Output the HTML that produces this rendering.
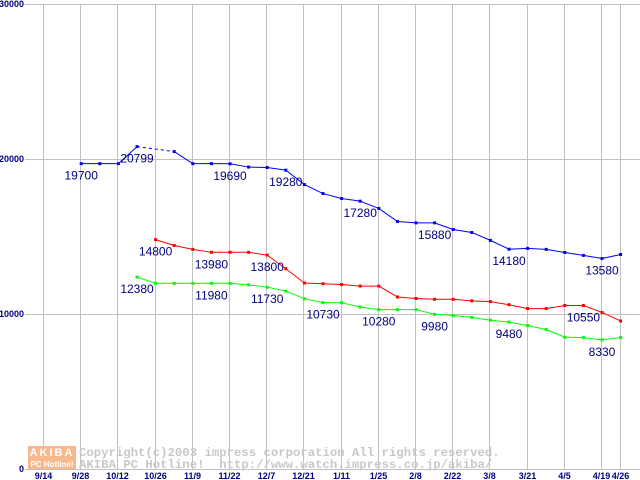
<!DOCTYPE html>
<html><head><meta charset="utf-8"><style>
html,body{margin:0;padding:0;background:#fff;width:640px;height:480px;overflow:hidden}
</style></head><body>
<svg id="chart" width="640" height="480" xmlns="http://www.w3.org/2000/svg" style="font-family:'Liberation Sans',sans-serif">
<g id="grid"></g>
<g id="wm">
<rect x="28" y="446" width="48" height="12" fill="#f7b88c"/>
<rect x="28" y="458" width="48" height="11" fill="#f7b88c"/>
<text x="52" y="456" font-size="11" font-weight="bold" fill="#fff" text-anchor="middle" letter-spacing="2">AKIBA</text>
<text x="52" y="467" font-size="8" font-weight="bold" fill="#fff" text-anchor="middle">PC Hotline!</text>
<text x="79" y="456" fill="#c8c8c8" style="font-family:'Liberation Mono',monospace;font-size:12.3px;font-weight:bold">Copyright(c)2003 impress corporation All rights reserved.</text>
<text x="79" y="468" fill="#c8c8c8" style="font-family:'Liberation Mono',monospace;font-size:12.3px;font-weight:bold" xml:space="preserve">AKIBA PC Hotline!  http://www.watch.impress.co.jp/akiba/</text>
</g>
<g id="series"></g>
<g id="labels"></g>
</svg>
<script>
const xCategories = ["9/14","9/28","10/12","10/26","11/9","11/22","12/7","12/21","1/11","1/25","2/8","2/22","3/8","3/21","4/5","4/19","4/26"];
const xCategoryWeeks = [0,2,4,6,8,10,12,14,16,18,20,22,24,26,28,30,31];
const yTicks = [0,10000,20000,30000];
const blueStart = 2;
const blueValues = [19700,19700,19700,20799,null,20480,19700,19700,19690,19480,19450,19280,18350,17770,17450,17280,16810,15970,15880,15880,15450,15260,14750,14180,14230,14170,13970,13780,13580,13840];
const redStart = 6;
const redValues = [14800,14420,14170,13980,13980,13980,13800,12920,12000,11950,11900,11800,11800,11100,11000,10950,10950,10850,10800,10600,10350,10350,10550,10550,10100,9550];
const greenStart = 5;
const greenValues = [12380,11980,11980,11980,11980,11980,11880,11730,11480,10980,10730,10730,10450,10280,10280,10280,9980,9900,9780,9600,9480,9250,9000,8500,8480,8330,8480];
const blueLabels = [[2,"19700"],[5,"20799"],[10,"19690"],[13,"19280"],[17,"17280"],[21,"15880"],[25,"14180"],[30,"13580"]];
const redLabels = [[6,"14800"],[9,"13980"],[12,"13800"],[29,"10550"]];
const greenLabels = [[5,"12380"],[9,"11980"],[12,"11730"],[15,"10730"],[18,"10280"],[21,"9980"],[25,"9480"],[30,"8330"]];

const NS="http://www.w3.org/2000/svg";
function X(w){return 44+w*18.6;}
function Y(v){return 469-v*0.01550;}
function mk(t,a,p){const e=document.createElementNS(NS,t);for(const k in a)e.setAttribute(k,a[k]);p.appendChild(e);return e;}
const grid=document.getElementById('grid');
yTicks.forEach(v=>{
  const l=mk('line',{x1:25,x2:640,y1:Math.round(Y(v))+0.5,y2:Math.round(Y(v))+0.5,stroke:'#c0c0c0'},grid);
  
  
  const t=mk('text',{x:24,y:Y(v)+3,style:'font-size:9px;font-weight:bold',fill:'#000080','text-anchor':'end'},grid);
  t.textContent=String(v);
  
  
});
xCategories.forEach((c,i)=>{
  const x=Math.round(X(xCategoryWeeks[i]))-0.5;
  const l=mk('line',{x1:x,x2:x,y1:4,y2:470,stroke:'#c0c0c0'},grid);
  
  
  const t=mk('text',{x:x,y:479,style:'font-size:9px;font-weight:bold',fill:'#000080','text-anchor':'middle'},grid);
  t.textContent=c;
  
  
});
const sg=document.getElementById('series');
function drawSeries(start,vals,color,name){
  const g=mk('g',{},sg);
  
  
  for(let i=0;i<vals.length-1;i++){
    let j=i+1;
    if(vals[i]==null)continue;
    let dashed=false;
    if(vals[j]==null){j++;dashed=true;}
    if(j>=vals.length||vals[j]==null)continue;
    const a={x1:X(start+i),y1:Y(vals[i]),x2:X(start+j),y2:Y(vals[j]),stroke:color,'stroke-width':1};
    if(dashed)a['stroke-dasharray']='3,3';
    const l=mk('line',a,g);
    
    
  }
  vals.forEach((v,i)=>{
    if(v==null)return;
    const r=mk('rect',{x:X(start+i)-1.5,y:Y(v)-1.5,width:3,height:3,fill:color},g);
    
    
  });
}
drawSeries(greenStart,greenValues,'#00ff00','green-series');
drawSeries(redStart,redValues,'#ff0000','red-series');
drawSeries(blueStart,blueValues,'#0000ff','blue-series');
const lg=document.getElementById('labels');
function drawLabels(list,start,vals){
  list.forEach(([w,txt])=>{
    const v=vals[w-start];
    const t=mk('text',{x:X(w),y:Y(v)+16,style:'font-size:12px',fill:'#000080','text-anchor':'middle'},lg);
    t.textContent=txt;
    
    
  });
}
drawLabels(blueLabels,blueStart,blueValues);
drawLabels(redLabels,redStart,redValues);
drawLabels(greenLabels,greenStart,greenValues);
</script>
</body></html>
